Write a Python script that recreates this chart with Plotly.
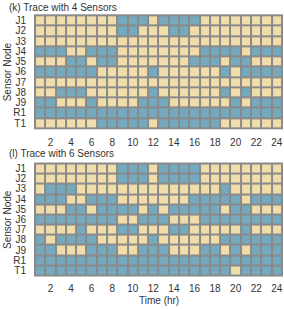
import plotly.graph_objects as go

# ---- data ----
nodes = ["J1", "J2", "J3", "J4", "J5", "J6", "J7", "J8", "J9", "R1", "T1"]
hours = list(range(1, 25))
x_ticks = [2, 4, 6, 8, 10, 12, 14, 16, 18, 20, 22, 24]

# 1 = sensed (blue), 0 = not sensed (tan)
trace4 = [
    [0,0,0,0,0,0,0,0,1,1,1,0,1,1,1,1,0,0,0,0,0,0,0,0],  # J1
    [0,0,0,0,0,0,0,0,1,1,0,0,0,1,1,0,0,0,0,0,0,0,0,0],  # J2
    [0,0,0,0,0,0,0,0,0,0,0,0,0,0,0,0,0,0,0,0,0,0,0,0],  # J3
    [1,1,1,0,0,1,1,1,0,0,0,0,0,0,0,0,1,1,1,1,0,1,1,1],  # J4
    [0,0,0,1,1,0,1,1,0,0,0,0,0,0,0,1,1,1,0,1,1,0,0,0],  # J5
    [1,1,1,1,1,1,0,0,0,0,0,1,0,0,0,0,0,0,1,0,1,1,1,1],  # J6
    [0,0,0,0,0,0,0,0,0,0,0,0,0,0,0,0,0,0,0,0,0,0,0,0],  # J7
    [0,0,1,1,1,0,0,0,0,0,0,1,0,0,0,0,0,0,1,0,1,0,0,0],  # J8
    [1,1,0,0,0,1,0,0,0,0,1,1,1,0,0,0,0,0,0,1,0,1,1,1],  # J9
    [1,1,1,1,1,1,1,1,1,1,1,1,1,1,1,1,1,1,1,1,1,1,1,1],  # R1
    [0,0,0,0,0,0,1,1,1,1,1,0,1,1,1,1,1,1,0,0,0,0,0,0],  # T1
]

trace6 = [
    [0,0,0,0,0,0,0,0,1,1,1,0,1,1,1,1,0,0,0,0,0,0,0,0],  # J1
    [0,0,0,0,0,0,0,0,1,1,1,0,1,1,1,1,0,0,0,0,0,0,0,0],  # J2
    [0,1,1,1,0,0,0,0,0,0,0,0,0,0,0,0,0,0,1,0,0,0,0,0],  # J3
    [1,1,1,0,0,1,1,1,0,0,0,0,0,0,0,1,1,1,1,1,0,1,1,1],  # J4
    [0,0,0,1,1,0,1,1,1,1,0,1,0,1,1,1,1,1,0,1,1,0,0,0],  # J5
    [1,1,1,1,1,1,1,1,0,0,1,1,1,0,0,0,1,1,1,1,1,1,1,1],  # J6
    [0,0,0,0,1,0,0,0,1,1,0,0,0,1,1,0,0,0,0,0,1,0,0,0],  # J7
    [1,0,1,1,1,1,0,0,0,0,0,1,0,0,0,0,0,0,1,1,1,1,1,1],  # J8
    [1,1,0,0,0,1,1,1,0,0,1,1,1,0,0,0,1,1,0,1,0,1,1,1],  # J9
    [1,1,1,1,1,1,1,1,1,1,1,1,1,1,1,1,1,1,1,1,1,1,1,1],  # R1
    [1,1,1,1,1,1,1,1,1,1,1,1,1,1,1,1,1,1,1,0,1,1,1,1],  # T1
]

titles = ["(k) Trace with 4 Sensors", "(l) Trace with 6 Sensors"]

TAN = "#F1DDAA"
BLUE = "#74A9BE"
GRID = "#8a8a8a"
FONT = dict(family="Liberation Sans, Arial, sans-serif", size=10, color="#333333")

W, H = 284, 309
row_idx = list(range(len(nodes)))

fig = go.Figure()
for i, z in enumerate([trace4, trace6]):
    xa = "x" if i == 0 else "x2"
    ya = "y" if i == 0 else "y2"
    fig.add_trace(go.Heatmap(
        z=z, x=hours, y=row_idx,
        colorscale=[[0, TAN], [1, BLUE]], zmin=0, zmax=1,
        showscale=False, xgap=2, ygap=2, hoverinfo="skip",
        xaxis=xa, yaxis=ya,
    ))

def fy(px):
    return 1 - px / H

doms = [(14.3, 129.3), (162.5, 276.5)]
xdom = [34 / W, 283 / W]

def xaxis_opts(tlen):
    return dict(
        range=[0.4, 24.6], tickmode="array", tickvals=x_ticks,
        ticktext=[str(t) for t in x_ticks], showgrid=False, zeroline=False,
        ticks="outside", ticklen=tlen, tickcolor="rgba(0,0,0,0)",
        showline=False, tickfont=FONT, fixedrange=True,
    )

axis_common_y = dict(
    range=[10.6, -0.6], tickmode="array", tickvals=row_idx, ticktext=nodes,
    showgrid=False, zeroline=False, ticks="outside", ticklen=5,
    tickcolor="rgba(0,0,0,0)", showline=False, tickfont=FONT, fixedrange=True,
)

fig.update_layout(
    width=W, height=H,
    margin=dict(l=0, r=0, t=0, b=0),
    paper_bgcolor="white", plot_bgcolor=GRID,
    font=FONT,
    xaxis=dict(domain=xdom, anchor="y", **xaxis_opts(4)),
    yaxis=dict(domain=[fy(doms[0][1]), fy(doms[0][0])], anchor="x", **axis_common_y),
    xaxis2=dict(domain=xdom, anchor="y2", **xaxis_opts(2)),
    yaxis2=dict(domain=[fy(doms[1][1]), fy(doms[1][0])], anchor="x2", **axis_common_y),
    showlegend=False,
)

annots = []
title_y = [7.3, 153.0]
for i in range(2):
    annots.append(dict(text=titles[i], x=7 / W, y=fy(title_y[i]), xref="paper", yref="paper",
                       xanchor="left", yanchor="middle", showarrow=False, font=FONT))
    cy = (doms[i][0] + doms[i][1]) / 2
    annots.append(dict(text="Sensor Node", x=7.5 / W, y=fy(cy), xref="paper", yref="paper",
                       xanchor="center", yanchor="middle", textangle=-90, showarrow=False, font=FONT))
annots.append(dict(text="Time (hr)", x=158.5 / W, y=fy(300.5), xref="paper", yref="paper",
                   xanchor="center", yanchor="middle", showarrow=False, font=FONT))
fig.update_layout(annotations=annots)

fig.write_html("out.html", config={"displayModeBar": False},
               post_script="document.body.style.margin='0';document.body.style.padding='0';")
